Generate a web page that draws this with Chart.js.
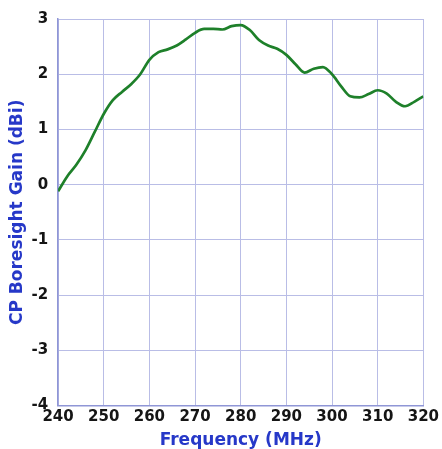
<!DOCTYPE html>
<html>
<head>
<meta charset="utf-8">
<script src="https://cdn.jsdelivr.net/npm/chart.js@4"></script>
<style>
  html, body { margin: 0; padding: 0; background: #fff; }
  #wrap { width: 442px; height: 449px; }
</style>
</head>
<body>
<div id="wrap"><canvas id="gainChart" width="442" height="449"></canvas></div>
<script>
const freqs = [240, 242, 244, 246, 248, 250, 252, 254, 256, 258, 260, 262, 264, 266, 268, 270,
  272, 274, 276, 278, 280, 282, 284, 286, 288, 290, 292, 294, 296, 298, 300, 302, 304, 306,
  308, 310, 312, 314, 316, 318, 320];
const gains = [-0.12, 0.15, 0.36, 0.62, 0.95, 1.28, 1.53, 1.68, 1.82, 2.0, 2.26, 2.4, 2.45, 2.52,
  2.63, 2.75, 2.82, 2.82, 2.81, 2.87, 2.89, 2.8, 2.62, 2.52, 2.46, 2.35, 2.18, 2.03, 2.1, 2.13,
  2.0, 1.78, 1.6, 1.58, 1.64, 1.71, 1.65, 1.5, 1.42, 1.5, 1.6];

const xTicks = [240, 250, 260, 270, 280, 290, 300, 310, 320];
const yTicks = [-4, -3, -2, -1, 0, 1, 2, 3];

const gridColor = "#b9bde6";
const titleColor = "#2638c8";
const tickFont = { family: "DejaVu Sans", size: 15, weight: "bold" };
const titleFont = { family: "DejaVu Sans", size: 17, weight: "bold" };

new Chart(document.getElementById("gainChart"), {
  type: "line",
  data: {
    datasets: [{
      data: freqs.map((f, i) => ({ x: f, y: gains[i] })),
      borderColor: "#1e802a",
      borderWidth: 2.7,
      pointRadius: 0,
      cubicInterpolationMode: "monotone",
      fill: false
    }]
  },
  options: {
    responsive: false,
    animation: false,
    layout: { padding: { top: 10, right: 0, left: 7, bottom: 0 } },
    plugins: { legend: { display: false }, tooltip: { enabled: false } },
    scales: {
      x: {
        type: "linear",
        min: xTicks[0],
        max: xTicks[xTicks.length - 1],
        afterBuildTicks: s => { s.ticks = xTicks.map(v => ({ value: v })); },
        grid: { color: gridColor, drawTicks: false },
        border: { color: "#8f96d6", width: 1.5 },
        ticks: { color: "#151515", font: tickFont, padding: 3, maxRotation: 0 },
        title: {
          display: true,
          text: "Frequency (MHz)",
          color: titleColor,
          font: titleFont,
          padding: { top: 1, bottom: -2 }
        }
      },
      y: {
        min: yTicks[0],
        max: yTicks[yTicks.length - 1],
        afterBuildTicks: s => { s.ticks = yTicks.map(v => ({ value: v })); },
        grid: { color: gridColor, drawTicks: false },
        border: { color: "#8f96d6", width: 1.5 },
        ticks: { color: "#151515", font: tickFont, padding: 10 },
        title: {
          display: true,
          text: "CP Boresight Gain (dBi)",
          color: titleColor,
          font: titleFont,
          padding: { top: 0, bottom: -6 }
        }
      }
    }
  }
});
</script>
</body>
</html>
